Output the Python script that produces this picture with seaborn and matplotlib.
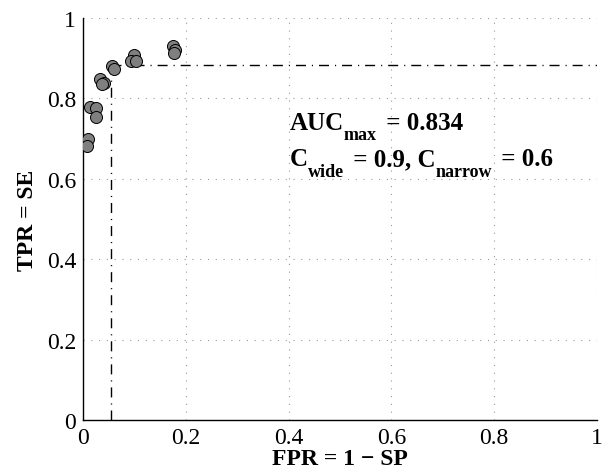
import matplotlib
matplotlib.use("Agg")
import matplotlib.pyplot as plt
import seaborn as sns
import pandas as pd

fpr = [0.175, 0.179, 0.177, 0.100, 0.093, 0.104, 0.056, 0.061, 0.034, 0.041, 0.036, 0.014, 0.025, 0.025, 0.009, 0.008]
tpr = [0.931, 0.920, 0.913, 0.908, 0.892, 0.894, 0.881, 0.873, 0.848, 0.838, 0.837, 0.778, 0.775, 0.753, 0.700, 0.681]
opt_fpr = 0.055
opt_tpr = 0.882
ticks = [0, 0.2, 0.4, 0.6, 0.8, 1]
tick_labels = ["0", "0.2", "0.4", "0.6", "0.8", "1"]
line1 = [("AUC", False), ("max", True), (" = 0.834", False)]
line2 = [("C", False), ("wide", True), (" = 0.9, C", False), ("narrow", True), (" = 0.6", False)]

sns.set_theme(style="white")
plt.rcParams["font.family"] = ["Liberation Serif", "DejaVu Serif"]

fig = plt.figure(figsize=(6.04, 4.77), dpi=100)
ax = fig.add_axes([83/604, 1-421/477, (597-83)/604, (421-19)/477])

df = pd.DataFrame({"FPR": fpr, "TPR": tpr})
sns.scatterplot(data=df, x="FPR", y="TPR", ax=ax, s=75, color="#7f7f7f",
                edgecolor="black", linewidth=0.7, zorder=3, legend=False)

dashdot = (0, (7.2, 4.3, 0.8, 4.3))
ax.plot([opt_fpr, opt_fpr], [0, opt_tpr], color="black", linestyle=dashdot, linewidth=1.0)
ax.plot([opt_fpr, 1], [opt_tpr, opt_tpr], color="black", linestyle=dashdot, linewidth=1.0)

ax.set_xlim(0, 1)
ax.set_ylim(0, 1)
ax.set_xticks(ticks)
ax.set_xticklabels(tick_labels)
ax.set_yticks(ticks)
ax.set_yticklabels(tick_labels)
ax.tick_params(direction="in", length=5, labelsize=17, color="black",
               labelcolor="black", pad=5, width=0.8)
ax.grid(True, linestyle=(0, (1, 6)), color="#999999", linewidth=0.8)
ax.spines["top"].set_visible(False)
ax.spines["right"].set_visible(False)
for s in ["left", "bottom"]:
    ax.spines[s].set_color("black")
    ax.spines[s].set_linewidth(1.0)

ax.set_xlabel("FPR = 1 \u2212 SP", fontsize=17, fontweight="bold", labelpad=0, color="black")
ax.set_ylabel("TPR = SE", fontsize=17, fontweight="bold", labelpad=6, color="black")


def chain(parts, x, y):
    prev = None
    prev_sub = False
    for txt, sub in parts:
        fs = 13 if sub else 18
        if prev is None:
            prev = ax.text(x, y, txt, fontsize=fs, fontweight="bold", color="black",
                           va="bottom", ha="left")
        else:
            dy = 0
            if sub and not prev_sub:
                dy = -7
            elif not sub and prev_sub:
                dy = 7
            dx = 2 if (not sub and prev_sub) else 0
            prev = ax.annotate(txt, xy=(1, 0), xycoords=prev, xytext=(dx, dy),
                               textcoords="offset points", fontsize=fs, fontweight="bold",
                               color="black", va="bottom", ha="left")
        prev_sub = sub


chain(line1, 0.402, 0.712)
chain(line2, 0.402, 0.621)

fig.savefig("out.png", dpi=100)
